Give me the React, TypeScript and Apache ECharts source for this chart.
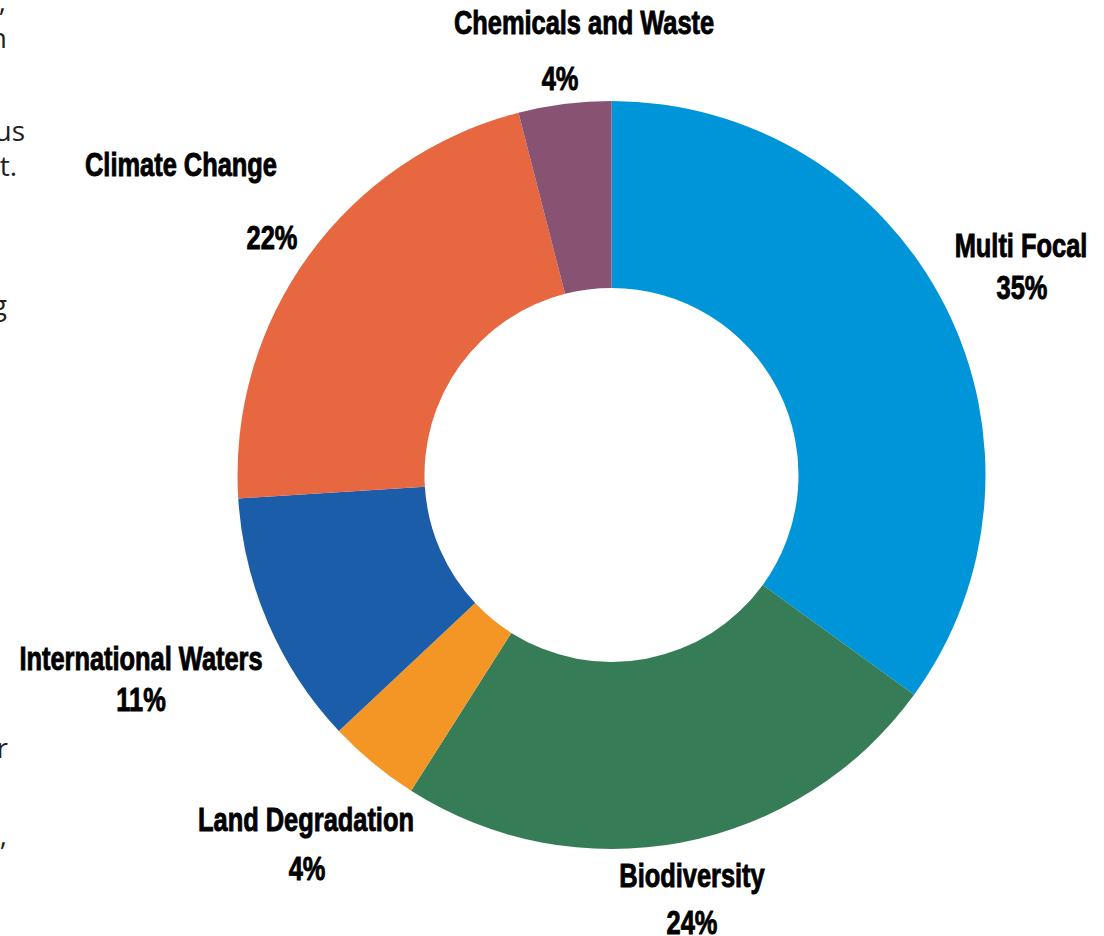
import React, { useEffect, useRef } from "react";
import * as echarts from "echarts";

const categories = [
  "Multi Focal",
  "Biodiversity",
  "Land Degradation",
  "International Waters",
  "Climate Change",
  "Chemicals and Waste",
];
const shares = [35, 24, 4, 11, 22, 4];
const sliceColors = ["#0095D9", "#367D57", "#F49625", "#1C5DA9", "#E66740", "#885372"];

// label layout: [nameX, nameY, pctX, pctY] (centres of each text line)
const labelSpots = [
  [1021, 245, 1022, 287],
  [692, 875, 692, 922],
  [306, 819, 307, 868],
  [141, 658, 141, 699],
  [181, 164, 272, 237],
  [584, 22, 560, 78],
];

// clipped fragments of body text at the left edge
const sideText = [",", "n", "us", "t.", "g", "r", ","];
const sideRight = [6, 7, 25, 17, 7, 8, 7];
const sideBaseline = [11, 48, 141, 176, 315, 758, 845];

const LABEL_FONT = "'Liberation Sans', Arial, sans-serif";
const LABEL_SIZE = 33;
const SQUEEZE = 0.77;

export default function App() {
  const ref = useRef<HTMLDivElement>(null);

  useEffect(() => {
    if (!ref.current) return;
    const chart = echarts.init(ref.current, undefined, { renderer: "svg" });

    const total = shares.reduce((a, b) => a + b, 0);
    const labelText = (t: string, x: number, y: number) => ({
      type: "text",
      x,
      y,
      scaleX: SQUEEZE,
      silent: true,
      style: {
        text: t,
        fontFamily: LABEL_FONT,
        fontWeight: "bold",
        fontSize: LABEL_SIZE,
        fill: "#000",
        stroke: "#000",
        lineWidth: 0.9,
        textAlign: "center",
        textVerticalAlign: "middle",
      },
    });

    const labels: any[] = [];
    categories.forEach((name, i) => {
      const s = labelSpots[i];
      labels.push(labelText(name, s[0], s[1]));
      labels.push(labelText(Math.round((shares[i] / total) * 100) + "%", s[2], s[3]));
    });

    const fragments = sideText.map((t, i) => ({
      type: "text",
      x: sideRight[i],
      y: sideBaseline[i] - 11,
      silent: true,
      style: {
        text: t,
        fontFamily: "'Open Sans', sans-serif",
        fontSize: 28,
        fill: "#231F20",
        textAlign: "right",
        textVerticalAlign: "middle",
      },
    }));

    const option: any = {
      animation: false,
      backgroundColor: "#ffffff",
      series: [
        {
          type: "pie",
          center: [611.5, 475],
          radius: [187, 374],
          startAngle: 90,
          clockwise: true,
          avoidLabelOverlap: false,
          itemStyle: { borderWidth: 0 },
          label: { show: false },
          labelLine: { show: false },
          emphasis: { disabled: true },
          data: categories.map((name, i) => ({
            name,
            value: shares[i],
            itemStyle: { color: sliceColors[i] },
          })),
        },
      ],
      graphic: [...fragments, ...labels],
    };

    chart.setOption(option);
    return () => chart.dispose();
  }, []);

  return (
    <div
      ref={ref}
      style={{ position: "absolute", left: 0, top: 0, width: 1104, height: 936 }}
    />
  );
}
